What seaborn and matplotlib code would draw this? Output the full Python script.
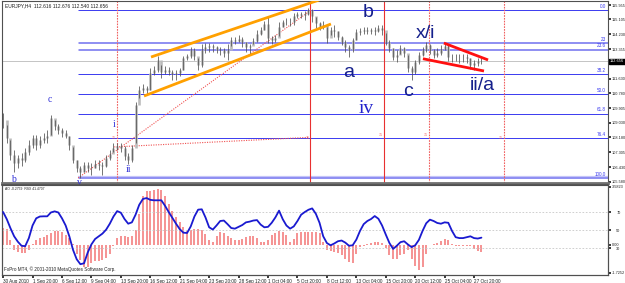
import numpy as np
import pandas as pd
import matplotlib
matplotlib.use("Agg")
import matplotlib.pyplot as plt
import matplotlib.transforms as mtransforms
import seaborn as sns

# ---------------- data ----------------
close = [109.20, 108.15, 107.15, 106.68, 106.97, 106.85, 107.32, 107.74, 108.15, 107.74,
         108.03, 108.15, 108.26, 109.32, 108.85, 108.62, 108.44, 108.26, 107.74, 106.85,
         106.38, 106.15, 106.56, 106.38, 106.38, 106.62, 106.56, 106.50, 106.97, 107.21,
         107.56, 107.68, 107.56, 107.09, 106.85, 107.56, 110.08, 110.96, 111.08, 110.96,
         111.96, 112.14, 112.73, 112.02, 112.14, 112.02, 111.90, 111.96, 112.14, 112.84,
         112.96, 113.31, 112.96, 112.43, 113.31, 113.49, 113.55, 113.49, 113.31, 113.31,
         113.14, 113.31, 113.90, 113.84, 113.96, 113.78, 113.49, 113.55, 113.84, 114.25,
         114.49, 114.84, 114.02, 113.90, 114.02, 114.66, 114.96, 114.96, 114.96, 115.31,
         115.43, 115.37, 115.43, 115.66, 115.31, 114.90, 114.66, 114.78, 114.02, 114.49,
         114.43, 114.08, 113.78, 113.49, 113.31, 113.90, 114.37, 114.43, 114.49, 114.43,
         114.49, 114.43, 114.61, 114.49, 113.78, 113.43, 112.90, 113.02, 113.43, 113.14,
         112.26, 112.02, 112.61, 113.02, 113.31, 113.61, 113.31, 113.02, 113.14, 113.37,
         113.55, 112.90, 112.90, 112.90, 112.90, 112.90, 112.84, 112.43, 112.55, 112.67,
         112.656]
high = [109.61, 108.91, 108.03, 107.44, 107.15, 107.27, 107.56, 108.03, 108.32, 108.32,
        108.26, 108.44, 108.62, 109.50, 109.20, 108.97, 108.73, 108.62, 108.26, 107.62,
        106.85, 106.50, 106.74, 106.74, 106.68, 106.85, 106.85, 106.74, 107.15, 107.44,
        107.85, 107.85, 107.85, 107.68, 107.27, 107.74, 110.26, 111.20, 111.32, 111.20,
        112.26, 112.37, 112.96, 112.43, 112.37, 112.32, 112.14, 112.14, 112.26, 112.96,
        113.08, 113.49, 113.43, 112.84, 113.67, 113.72, 113.72, 113.67, 113.55, 113.49,
        113.43, 113.67, 114.08, 114.08, 114.19, 114.08, 113.78, 113.67, 114.02, 114.49,
        114.66, 115.02, 115.31, 114.14, 114.19, 114.96, 115.08, 115.19, 115.19, 115.49,
        115.54, 115.54, 115.60, 115.78, 115.72, 115.25, 114.96, 115.02, 114.66, 114.66,
        114.78, 114.43, 114.14, 113.90, 113.61, 114.02, 114.55, 114.61, 114.66, 114.66,
        114.61, 114.66, 114.78, 114.78, 114.31, 113.90, 113.43, 113.31, 113.61, 113.49,
        113.02, 112.37, 112.73, 113.20, 113.49, 113.78, 113.67, 113.37, 113.43, 113.61,
        113.72, 113.61, 113.08, 113.08, 113.08, 113.08, 113.08, 112.84, 112.73, 112.84,
        112.84]
low = [108.73, 107.85, 106.85, 106.15, 106.38, 106.50, 106.74, 107.15, 107.56, 107.44,
       107.56, 107.85, 107.85, 108.32, 108.62, 108.38, 108.20, 108.15, 107.44, 106.68,
       106.15, 105.80, 106.15, 106.15, 105.97, 106.38, 106.27, 105.97, 106.44, 106.85,
       107.32, 107.44, 107.32, 106.85, 106.62, 106.74, 107.85, 110.49, 110.79, 110.67,
       110.96, 111.85, 112.02, 111.67, 111.90, 111.85, 111.55, 111.55, 111.79, 112.14,
       112.73, 112.84, 112.73, 112.14, 112.32, 113.14, 113.20, 113.20, 113.14, 113.02,
       112.90, 112.73, 113.55, 113.67, 113.78, 113.49, 113.20, 113.02, 113.67, 113.78,
       114.19, 114.49, 113.72, 113.67, 113.78, 114.14, 114.66, 114.78, 114.72, 114.78,
       115.19, 115.19, 115.08, 115.37, 114.96, 114.61, 114.49, 114.55, 113.72, 114.19,
       114.08, 113.90, 113.61, 113.20, 112.90, 113.20, 113.90, 114.19, 114.25, 114.25,
       114.25, 114.19, 114.37, 114.19, 113.61, 113.20, 112.73, 112.61, 113.08, 112.90,
       112.02, 111.55, 111.90, 112.49, 112.96, 113.20, 113.08, 112.84, 112.90, 113.02,
       113.31, 112.67, 112.61, 112.67, 112.55, 112.61, 112.55, 112.20, 112.14, 112.37,
       112.49]

ao = [1.04, 1.0, 0.3, -0.3, -0.45, -0.5, -0.48, -0.35, 0.05, 0.3,
      0.4, 0.5, 0.6, 0.75, 0.85, 0.87, 0.78, 0.62, 0.45, 0.05,
      -0.55, -0.95, -1.35, -1.35, -1.13, -1.03, -1.0, -0.95, -0.82, -0.55,
      -0.05, 0.45, 0.55, 0.55, 0.48, 0.55, 0.9, 1.9, 3.0, 3.35,
      3.3, 3.37, 3.45, 3.41, 3.0, 2.5, 2.1, 1.7, 1.4, 1.1,
      0.88, 0.92, 0.98, 0.98, 0.9, 0.65, 0.28, 0.2, 0.55, 0.8,
      0.73, 0.55, 0.42, 0.28, 0.28, 0.36, 0.5, 0.56, 0.56, 0.4,
      0.15, 0.15, 0.32, 0.6, 0.73, 0.83, 0.78, 0.62, 0.15, 0.35,
      0.7, 0.78, 0.8, 0.82, 0.8, 0.78, 0.7, 0.2, -0.3, -0.4,
      -0.45, -0.5, -0.65, -0.85, -1.05, -1.15, -0.55, -0.12, -0.08, 0.05,
      0.08, 0.15, 0.2, 0.12, -0.2, -0.65, -0.85, -0.9, -0.65, -0.55,
      -0.3, -0.9, -1.3, -1.55, -1.35, -0.6, -0.02, 0.03, 0.08, 0.25,
      0.35, 0.3, 0.02, -0.1, -0.1, -0.08, -0.1, -0.1, -0.28, -0.4,
      -0.42]
rsx = [70, 62, 52, 43, 37, 32.5, 32, 41, 55, 63,
       65, 65.2, 65.2, 69.5, 70.7, 69.5, 63, 55, 43, 28,
       17.5, 12, 13, 25, 34, 40, 43, 46, 50.4, 57,
       65, 71, 69.2, 62.2, 57, 58.5, 67, 78, 84.5, 85.5,
       83.5, 83, 83, 83, 77, 70, 63.5, 57, 51, 47,
       46.7, 54, 65, 72.6, 73, 64, 53, 50.5, 55, 60,
       60.5, 56.5, 52.2, 51.5, 53.5, 55.5, 58.5, 59.3, 60.5, 61,
       56, 53, 53.5, 58, 64, 71.5, 62, 55, 51.5, 54,
       60, 67, 70, 72.5, 74, 68, 58, 43, 35.5, 33,
       35, 37.5, 38.3, 36, 32.5, 33, 39.3, 49, 56.5, 60,
       62.2, 65.5, 62.5, 55, 45, 35.5, 29, 32.5, 36.5, 37.5,
       34, 31, 33, 39, 49, 57.5, 61.5, 60, 57.8, 57,
       58.5, 58, 49, 42, 41, 41, 42, 43, 41, 40.5,
       41.5]

time_labels = ["30 Aug 2010", "1 Sep 20:00", "6 Sep 12:00", "9 Sep 04:00", "13 Sep 20:00",
               "16 Sep 12:00", "21 Sep 04:00", "23 Sep 20:00", "28 Sep 12:00", "1 Oct 04:00",
               "5 Oct 20:00", "8 Oct 12:00", "13 Oct 04:00", "15 Oct 20:00", "20 Oct 12:00",
               "25 Oct 04:00", "27 Oct 20:00"]
time_label_bars = [0, 8, 16, 24, 32, 40, 48, 56, 64, 72, 80, 88, 96, 104, 112, 120, 128]

price_ticks = [115.955, 115.105, 114.230, 113.355, 112.505, 111.630, 110.780,
               109.905, 109.030, 108.180, 107.305, 106.430, 105.580]

fib_levels = [115.644, 113.695, 113.32, 111.88, 110.72, 109.558, 108.12, 105.796]
fib_names = ["0.0", "23", "23.6", "38.2", "50.0", "61.8", "76.4", "100.0"]
fib_doubled = [False, True, True, False, False, False, False, True]
fib_start_bar = 20.4

vlines_bars = [31.0, 83.4, 103.5, 115.8, 136.1]
vlines_dotted = [True, False, False, True, True]

orange_upper = ([40.2, 85.9], [112.90, 116.25])
orange_lower = ([38.3, 89.1], [110.61, 114.84])
red_upper = ([119.8, 131.8], [113.72, 112.73])
red_lower = ([114.1, 130.7], [112.80, 112.08])
dot_line1 = ([20.4, 83.7], [105.80, 115.66])
dot_line2 = ([30.2, 82.9], [107.62, 108.18])

big_labels = [("b", 99.2, 115.49), ("a", 94.0, 112.02), ("x/i", 114.7, 114.31),
              ("c", 110.0, 110.85), ("ii/a", 130.2, 111.20)]
serif_small = [("c", 12.8, 110.38), ("i", 30.2, 108.91), ("ii", 34.0, 106.27),
               ("b", 2.7, 105.68), ("v", 20.7, 105.52)]

last_price = 112.656

# ---------------- figure ----------------
sns.set_theme(style="white")
plt.rcParams["font.family"] = ["Liberation Sans", "DejaVu Sans"]

fig = plt.figure(figsize=(6.25, 2.83), dpi=100)
fig.patch.set_facecolor("white")
W, H = 625, 283
x0, x1 = 2 / W, 608 / W
ax = fig.add_axes([x0, 1 - 183 / H, x1 - x0, 182 / H])
ind = fig.add_axes([x0, 1 - 275 / H, x1 - x0, 90 / H])

n = len(close)
idx = np.arange(n)
opens = [close[0]] + close[:-1]
df = pd.DataFrame({"i": idx, "open": opens, "close": close, "high": high, "low": low,
                   "ao": ao, "rsx": rsx})

xmin, xmax = -0.3, 164.4
ax.set_xlim(xmin, xmax)
ax.set_ylim(105.503, 116.19)
px = (116.19 - 105.503) / 182.0  # price per pixel

# fib lines
for lv, nm, dbl in zip(fib_levels, fib_names, fib_doubled):
    if dbl:
        ax.hlines([lv, lv + px * 1.2], fib_start_bar, xmax, color="#8e8ef2", lw=0.7, zorder=1)
        if nm == "100.0":
            ax.hlines(lv + px * 0.6, fib_start_bar, xmax, color="#c4c4f8", lw=1.6, zorder=0.95)
    else:
        ax.hlines(lv, fib_start_bar, xmax, color="#3a3af0", lw=0.7, zorder=1.1)
    ax.text(xmax - 0.6, lv + px * 1.5, nm, color="#3a3af0", fontsize=3.3,
            ha="right", va="bottom", zorder=5)

# bid line
ax.axhline(last_price, color="#c4c4c4", lw=0.7, zorder=0.9)

# vertical red lines
for vb, dot in zip(vlines_bars, vlines_dotted):
    ax.axvline(vb, color="#f06060" if dot else "#e83030",
               lw=0.8, ls=(0, (1.5, 1)) if dot else "-", zorder=1.2)

# dotted red trend lines
for (xs, ys) in [dot_line1, dot_line2]:
    ax.plot(xs, ys, color="#f05050", lw=0.8, ls=(0, (1, 1.2)), zorder=2)

# candles
bot = df[["open", "close"]].min(axis=1)
top = df[["open", "close"]].max(axis=1)
ax.vlines(df["i"], bot, top + 0.02, color="#bcbcbc", lw=1.9, zorder=3)
ax.vlines(df["i"], df["low"], df["high"], color="#505050", lw=0.55, zorder=3.1)

# channels
for (xs, ys) in [orange_upper, orange_lower]:
    ax.plot(xs, ys, color="#ffa000", lw=2.0, solid_capstyle="butt", zorder=4)
for (xs, ys) in [red_upper, red_lower]:
    ax.plot(xs, ys, color="#ff1010", lw=2.0, solid_capstyle="butt", zorder=4)

# wave labels
for t, xi, yp in big_labels:
    ax.text(xi, yp, t, color="#15208c", fontsize=14, ha="center", va="center", zorder=6)
ax.text(98.6, 109.85, "iv", color="#2323cc", fontsize=14, ha="center", va="center",
        family=["Liberation Serif", "DejaVu Serif"], zorder=6)
for t, xi, yp in serif_small:
    ax.text(xi, yp, t, color="#3030d8", fontsize=7, ha="center", va="center",
            family=["Liberation Serif", "DejaVu Serif"], zorder=6)

# small red markers
for xb, yp in [(30.0, 108.15), (82.8, 108.12), (102.6, 108.35), (115.0, 108.35), (135.4, 108.12)]:
    ax.text(xb, yp, "71", color="#f05050", fontsize=2.6, ha="center", va="center", zorder=5)

ax.text(0.005, 0.988, "EURJPY,H4  112.616 112.676 112.540 112.656", transform=ax.transAxes,
        fontsize=3.5, color="#202020", va="top", ha="left")

# price axis
ax.yaxis.tick_right()
ax.set_yticks(price_ticks)
ax.set_yticklabels(["" if abs(p - 112.505) < 1e-6 else f"{p:.3f}" for p in price_ticks])
ax.tick_params(axis="y", labelsize=2.8, length=2, pad=0.8, colors="#202020", right=True)
ax.set_xticks([])
trans = mtransforms.blended_transform_factory(ax.transAxes, ax.transData)
ax.text(1.003, last_price, "112.656", transform=trans, fontsize=2.8, color="white",
        ha="left", va="center", zorder=10, clip_on=False,
        bbox=dict(boxstyle="square,pad=0.15", fc="black", ec="black"))
for s in ax.spines.values():
    s.set_color("#505050")
    s.set_linewidth(0.8)
ax.spines["bottom"].set_color("#707070")
ax.spines["bottom"].set_linewidth(2.0)

# ---------------- indicator ----------------
ind.set_xlim(xmin, xmax)
ind.set_ylim(-1.87, 3.70)
ind.vlines(df["i"], 0, df["ao"], color="#f58a8a", lw=1.3, zorder=2)

rs = ind.twinx()
rs.set_ylim(0, 100)
for lv in [70, 50, 30]:
    rs.axhline(lv, color="#c8c8c8", lw=0.6, ls=(0, (2, 2)), zorder=1)
sns.lineplot(data=df, x="i", y="rsx", ax=rs, color="#1a1ad0", lw=1.3, zorder=3)
rs.set_xlim(xmin, xmax)
rs.set_yticks([70, 50, 30])
rs.set_yticklabels(["70", "50", "30"])
rs.tick_params(axis="y", labelsize=2.8, length=2, pad=4.0, colors="#202020")
rs.set_ylabel("")
rs.set_xlabel("")

# AO scale on the right as well (after twinx, which moves it left)
ind.yaxis.tick_right()
ind.yaxis.set_label_position("right")
ind.set_yticks([3.5823, 0.0, -1.7252])
ind.set_yticklabels(["3.5823", "0.00", "-1.7252"])
ind.tick_params(axis="y", labelsize=2.8, length=2, pad=0.8, colors="#202020",
                left=False, labelleft=False, right=True, labelright=True)
ind.set_xticks(time_label_bars)
ind.set_xticklabels(time_labels, ha="left")
ind.tick_params(axis="x", labelsize=3.3, length=2, pad=0.8, colors="#202020", bottom=True)
ind.set_xlabel("")
ind.set_ylabel("")

ind.text(0.005, 0.975, "AO -0.2759  RSX 41.4707", transform=ind.transAxes,
         fontsize=2.4, color="#202020", va="top", ha="left")
ind.text(0.003, 0.03, "FxPro MT4, \u00a9 2001-2010 MetaQuotes Software Corp.", transform=ind.transAxes,
         fontsize=3.3, color="#202020", va="bottom", ha="left")
for a in (ind, rs):
    for s in a.spines.values():
        s.set_color("#505050")
        s.set_linewidth(0.8)
ind.spines["top"].set_linewidth(1.2)

fig.savefig("out.png", dpi=100, facecolor="white")
